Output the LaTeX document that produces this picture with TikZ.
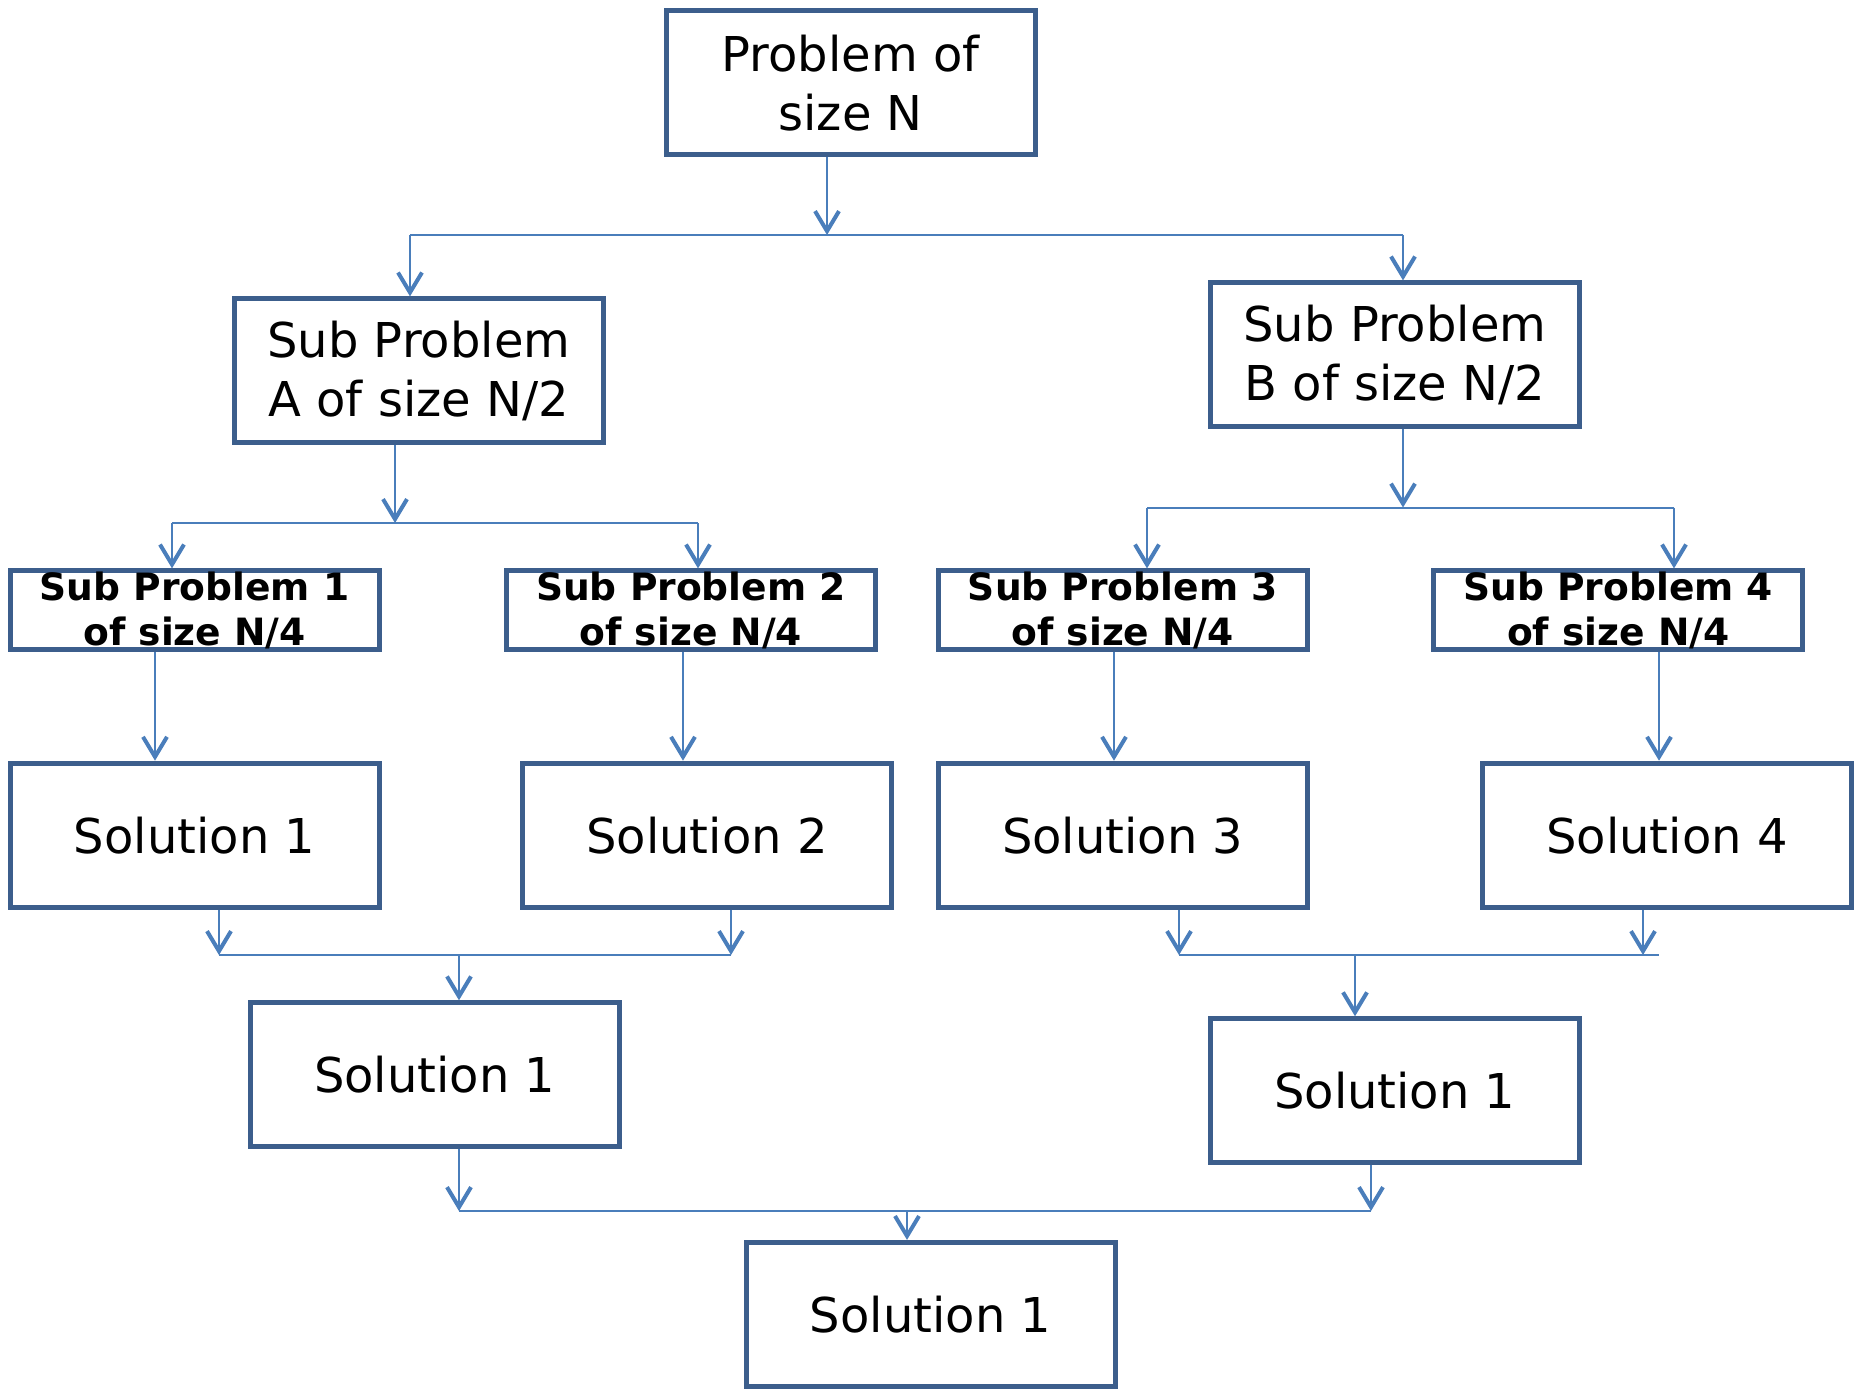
\documentclass[tikz,border=0pt]{standalone}
\usepackage{fontspec}
\setmainfont{DejaVu Sans}
\usetikzlibrary{arrows.meta}
\definecolor{boxc}{HTML}{3C5E8C}
\definecolor{linkc}{HTML}{4A7EBB}
\tikzset{
  bigbox/.style={draw=boxc, line width=2.5pt, fill=white, minimum width=184.5pt,
    minimum height=72pt, inner sep=0pt, align=center,
    font=\fontsize{24}{29.5}\selectfont},
  smallbox/.style={draw=boxc, line width=2.5pt, fill=white, minimum width=184.5pt,
    minimum height=39.5pt, inner sep=0pt, align=center,
    font=\bfseries\fontsize{18.8}{22.5}\selectfont},
  link/.style={draw=linkc, line width=1pt},
  arr/.style={link, -{Straight Barb[length=10pt,width=12pt,line width=2pt]}},
}
\begin{document}
\begin{tikzpicture}[x=0.5pt,y=-0.5pt]
\useasboundingbox (0,0) rectangle (1855,1390);

% boxes
\node[bigbox] (top) at (850.6,82.8) {Problem of\\size N};
\node[bigbox] (A) at (418.8,370.9) {Sub Problem\\A of size N/2};
\node[bigbox] (B) at (1394.8,354.9) {Sub Problem\\B of size N/2};
\node[smallbox] (sp1) at (194.6,610.4) {Sub Problem 1\\of size N/4};
\node[smallbox] (sp2) at (690.9,610.4) {Sub Problem 2\\of size N/4};
\node[smallbox] (sp3) at (1122.7,610.4) {Sub Problem 3\\of size N/4};
\node[smallbox] (sp4) at (1618.3,610.4) {Sub Problem 4\\of size N/4};
\node[bigbox] (sol1) at (194.6,835.2) {Solution 1};
\node[bigbox] (sol2) at (706.9,835.2) {Solution 2};
\node[bigbox] (sol3) at (1122.7,835.2) {Solution 3};
\node[bigbox] (sol4) at (1666.9,835.2) {Solution 4};
\node[bigbox] (L) at (434.8,1074.8) {Solution 1};
\node[bigbox] (R) at (1394.8,1090.7) {Solution 1};
\node[bigbox] (F) at (930.5,1314.4) {Solution 1};

% junction points
\coordinate (j0) at (827,235);
\coordinate (jA) at (410,235);
\coordinate (jB) at (1403,235);
\coordinate (kA) at (395,523);
\coordinate (k1) at (172,523);
\coordinate (k2) at (698,523);
\coordinate (kB) at (1403,507.5);
\coordinate (k3) at (1147,507.5);
\coordinate (k4) at (1674,507.5);
\coordinate (s1) at (155,0);
\coordinate (s2) at (683,0);
\coordinate (s3) at (1114,0);
\coordinate (s4) at (1659,0);
\coordinate (m1) at (219,955);
\coordinate (m2) at (731,955);
\coordinate (mL) at (459,955);
\coordinate (m3) at (1179,955);
\coordinate (m4) at (1643,955);
\coordinate (m4e) at (1659,955);
\coordinate (mR) at (1355,955);
\coordinate (f1) at (459,1211);
\coordinate (f2) at (1371,1211);
\coordinate (fM) at (907,1211);

% split N -> A, B
\draw[link] (jA) -- (jB);
\draw[arr] (top.south -| j0) -- (j0);
\draw[arr] (jA) -- (A.north -| jA);
\draw[arr] (jB) -- (B.north -| jB);

% split A -> 1, 2
\draw[link] (k1) -- (k2);
\draw[arr] (A.south -| kA) -- (kA);
\draw[arr] (k1) -- (sp1.north -| k1);
\draw[arr] (k2) -- (sp2.north -| k2);

% split B -> 3, 4
\draw[link] (k3) -- (k4);
\draw[arr] (B.south -| kB) -- (kB);
\draw[arr] (k3) -- (sp3.north -| k3);
\draw[arr] (k4) -- (sp4.north -| k4);

% solve
\draw[arr] (sp1.south -| s1) -- (sol1.north -| s1);
\draw[arr] (sp2.south -| s2) -- (sol2.north -| s2);
\draw[arr] (sp3.south -| s3) -- (sol3.north -| s3);
\draw[arr] (sp4.south -| s4) -- (sol4.north -| s4);

% combine 1, 2
\draw[link] (m1) -- (m2);
\draw[arr] (sol1.south -| m1) -- (m1);
\draw[arr] (sol2.south -| m2) -- (m2);
\draw[arr] (mL) -- (L.north -| mL);

% combine 3, 4
\draw[link] (m3) -- (m4e);
\draw[arr] (sol3.south -| m3) -- (m3);
\draw[arr] (sol4.south -| m4) -- (m4);
\draw[arr] (mR) -- (R.north -| mR);

% final combine
\draw[link] (f1) -- (f2);
\draw[arr] (L.south -| f1) -- (f1);
\draw[arr] (R.south -| f2) -- (f2);
\draw[arr] (fM) -- (F.north -| fM);
\end{tikzpicture}
\end{document}
